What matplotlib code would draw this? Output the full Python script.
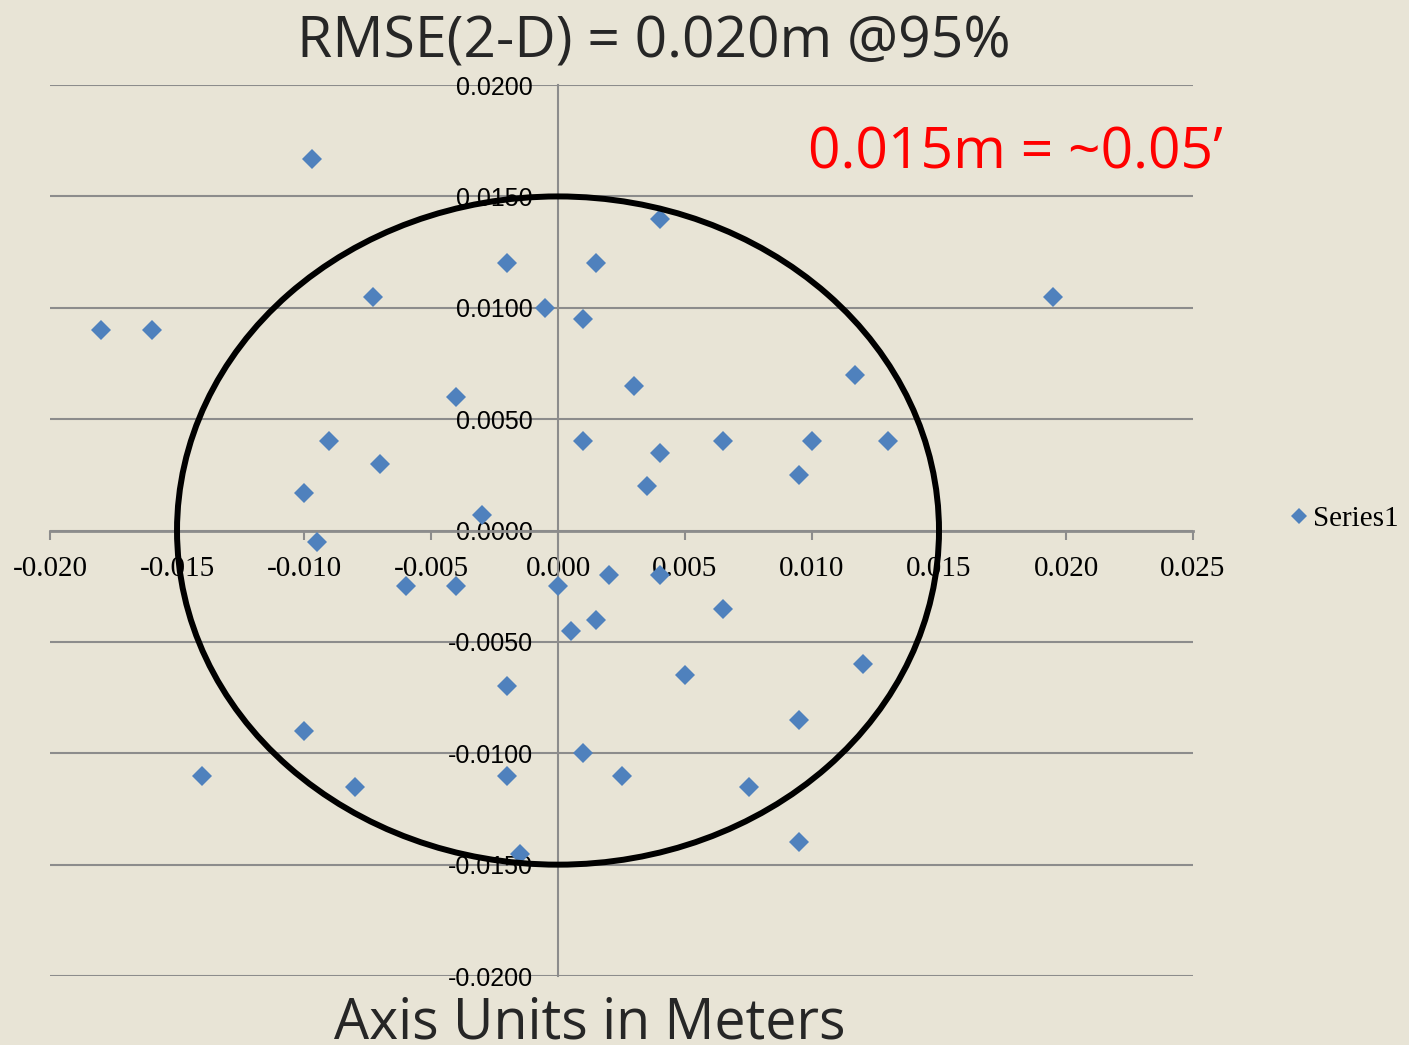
import matplotlib.pyplot as plt
from matplotlib.patches import Ellipse

# error offsets (m)
dx = [-0.0097, 0.0040, -0.0020, 0.0015, -0.0073, 0.0195, -0.0005, 0.0010, -0.0180, -0.0160,
      0.0117, 0.0030, -0.0040, -0.0090, 0.0010, 0.0065, 0.0100, 0.0130, 0.0040, -0.0070,
      0.0095, 0.0035, -0.0100, -0.0030, -0.0095, -0.0060, -0.0040, 0.0000, 0.0020, 0.0040,
      0.0065, 0.0015, 0.0005, 0.0120, 0.0050, -0.0020, 0.0095, -0.0100, 0.0010, -0.0140,
      -0.0020, 0.0025, -0.0080, 0.0075, 0.0095, -0.0015]
dy = [0.0167, 0.0140, 0.0120, 0.0120, 0.0105, 0.0105, 0.0100, 0.0095, 0.0090, 0.0090,
      0.0070, 0.0065, 0.0060, 0.0040, 0.0040, 0.0040, 0.0040, 0.0040, 0.0035, 0.0030,
      0.0025, 0.0020, 0.0017, 0.0007, -0.0005, -0.0025, -0.0025, -0.0025, -0.0020, -0.0020,
      -0.0035, -0.0040, -0.0045, -0.0060, -0.0065, -0.0070, -0.0085, -0.0090, -0.0100, -0.0110,
      -0.0110, -0.0110, -0.0115, -0.0115, -0.0140, -0.0145]
radius = 0.015
xticks = [-0.020, -0.015, -0.010, -0.005, 0.000, 0.005, 0.010, 0.015, 0.020, 0.025]
yticks = [-0.0200, -0.0150, -0.0100, -0.0050, 0.0000, 0.0050, 0.0100, 0.0150, 0.0200]

bg = '#E8E4D6'
grey = '#8C8C8C'

fig = plt.figure(figsize=(14.09, 10.45), dpi=100)
fig.patch.set_facecolor(bg)
ax = fig.add_axes([0.0355, 0.0660, 0.8112, 0.8526])
ax.set_facecolor(bg)

ax.plot(dx, dy, 'D', color='#4F81BD', markersize=10, markeredgewidth=0, label='Series1', zorder=3)
ax.add_patch(Ellipse((0, 0), 2 * radius, 2 * radius, fill=False, ec='black', lw=4.3, zorder=4))

ax.set_xlim(-0.020, 0.025)
ax.set_ylim(-0.020, 0.020)
ax.set_xticks(xticks)
ax.set_xticklabels(['%.3f' % v for v in xticks])
ax.set_yticks(yticks)
ax.set_yticklabels(['%.4f' % v for v in yticks])

ax.grid(axis='y', color=grey, lw=1.5)
ax.set_axisbelow(True)
for s in ['top', 'right']:
    ax.spines[s].set_visible(False)
ax.spines['left'].set_position(('data', 0))
ax.spines['bottom'].set_position(('data', 0))
ax.spines['left'].set_color(grey)
ax.spines['bottom'].set_color(grey)
ax.spines['left'].set_linewidth(1.5)
ax.spines['bottom'].set_linewidth(2)
ax.tick_params(axis='x', direction='out', length=6.5, width=1.5, color=grey, pad=12,
               labelsize=21, labelfontfamily='Liberation Serif')
ax.tick_params(axis='y', length=0, pad=18, labelsize=18, labelfontfamily='Liberation Sans')

leg = ax.legend(loc='center left', bbox_to_anchor=(1.06, 0.513), frameon=False,
                prop={'family': 'Liberation Serif', 'size': 21}, handletextpad=0.05,
                handlelength=0.8, markerscale=0.8)

fig.text(0.464, 0.9445, 'RMSE(2-D) = 0.020m @95%', fontsize=41, family='Open Sans',
         color='#262626', ha='center', va='baseline')
fig.text(0.5735, 0.8392, '0.015m = ~0.05\u2019', fontsize=41, family='Open Sans',
         color='#FF0000', ha='left', va='baseline')
fig.text(0.4187, 0.006, 'Axis Units in Meters', fontsize=40, family='Open Sans',
         color='#262626', ha='center', va='baseline')

fig.savefig('out.png', dpi=100, facecolor=bg)
